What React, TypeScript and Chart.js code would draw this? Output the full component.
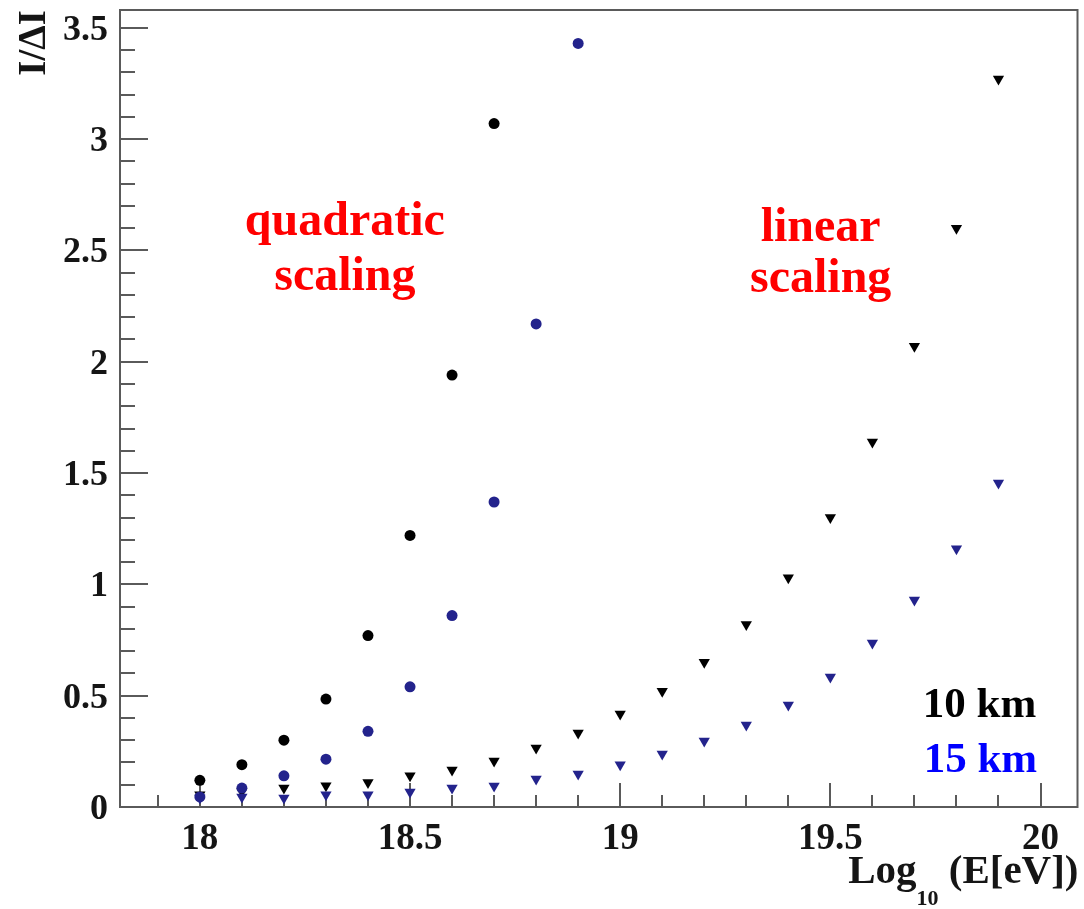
import { useEffect, useRef } from "react";
import { Chart, registerables } from "chart.js";

Chart.register(...registerables);

// ---- data ----
const energiesQuad10 = [18.0, 18.1, 18.2, 18.3, 18.4, 18.5, 18.6, 18.7];
const quad10km = [0.12, 0.19, 0.3, 0.485, 0.77, 1.22, 1.94, 3.07];

const energiesQuad15 = [18.0, 18.1, 18.2, 18.3, 18.4, 18.5, 18.6, 18.7, 18.8, 18.9];
const quad15km = [0.045, 0.085, 0.14, 0.215, 0.34, 0.54, 0.86, 1.37, 2.17, 3.43];

const energiesLin = [
  18.0, 18.1, 18.2, 18.3, 18.4, 18.5, 18.6, 18.7, 18.8, 18.9,
  19.0, 19.1, 19.2, 19.3, 19.4, 19.5, 19.6, 19.7, 19.8, 19.9,
];
const lin10km = [
  0.055, 0.07, 0.085, 0.095, 0.11, 0.14, 0.166, 0.207, 0.265, 0.332,
  0.418, 0.52, 0.65, 0.82, 1.03, 1.3, 1.64, 2.07, 2.6, 3.27,
];
const lin15km = [
  0.04, 0.045, 0.04, 0.055, 0.055, 0.067, 0.085, 0.094, 0.126, 0.148,
  0.19, 0.238, 0.296, 0.368, 0.458, 0.584, 0.737, 0.93, 1.16, 1.455,
];

const xMajorTicks = [18, 18.5, 19, 19.5, 20];
const xTickLabels = ["18", "18.5", "19", "19.5", "20"];
const yMajorTicks = [0, 0.5, 1, 1.5, 2, 2.5, 3, 3.5];
const yTickLabels = ["0", "0.5", "1", "1.5", "2", "2.5", "3", "3.5"];

const X_MIN = 17.81;
const X_MAX = 20.088;
const Y_MIN = 0;
const Y_MAX = 3.58;

const BLUE_MARK = "#23238c";
const FONT = '"Liberation Serif", "Times New Roman", serif';

type Note = { text: string; x: number; y: number; color: string; size: number };
const notes: Note[] = [
  { text: "quadratic", x: 18.345, y: 2.57, color: "#ff0000", size: 48 },
  { text: "scaling", x: 18.345, y: 2.323, color: "#ff0000", size: 48 },
  { text: "linear", x: 19.477, y: 2.543, color: "#ff0000", size: 48 },
  { text: "scaling", x: 19.477, y: 2.314, color: "#ff0000", size: 48 },
  { text: "10 km", x: 19.855, y: 0.404, color: "#000000", size: 43 },
  { text: "15 km", x: 19.857, y: 0.157, color: "#0000ff", size: 43 },
];

const toPts = (xs: number[], ys: number[]) => ys.map((y, i) => ({ x: xs[i], y }));

const rootAxesPlugin = {
  id: "rootAxes",
  beforeDatasetsDraw(chart: any) {
    const { ctx, chartArea: a, scales } = chart;
    const xs = scales.x;
    const ys = scales.y;
    ctx.save();
    ctx.strokeStyle = "#5a5a5a";
    ctx.lineWidth = 2;
    for (let i = 179; i <= 200; i++) {
      const v = i / 10;
      const px = Math.round(xs.getPixelForValue(v));
      const major = i % 5 === 0;
      ctx.beginPath();
      ctx.moveTo(px, a.bottom);
      ctx.lineTo(px, a.bottom - (major ? 24 : 12));
      ctx.stroke();
    }
    for (let i = 0; i <= 35; i++) {
      const v = i / 10;
      const py = Math.round(ys.getPixelForValue(v));
      const major = i % 5 === 0;
      ctx.beginPath();
      ctx.moveTo(a.left, py);
      ctx.lineTo(a.left + (major ? 28 : 15), py);
      ctx.stroke();
    }
    ctx.restore();
  },
  afterDatasetsDraw(chart: any) {
    const { ctx, chartArea: a, scales } = chart;
    const xs = scales.x;
    const ys = scales.y;
    ctx.save();
    ctx.strokeStyle = "#5a5a5a";
    ctx.lineWidth = 2;
    ctx.strokeRect(a.left, a.top, a.right - a.left, a.bottom - a.top);

    ctx.fillStyle = "#151515";
    ctx.font = `bold 37px ${FONT}`;
    ctx.textBaseline = "alphabetic";
    ctx.textAlign = "center";
    xMajorTicks.forEach((v, i) => {
      ctx.fillText(xTickLabels[i], xs.getPixelForValue(v), a.bottom + 42);
    });
    ctx.font = `bold 36px ${FONT}`;
    ctx.textAlign = "right";
    yMajorTicks.forEach((v, i) => {
      ctx.fillText(yTickLabels[i], a.left - 12, ys.getPixelForValue(v) + 12);
    });

    ctx.textAlign = "left";
    const main = `bold 41px ${FONT}`;
    const sub = `bold 22px ${FONT}`;
    ctx.font = main;
    const wLog = ctx.measureText("Log").width;
    const wRest = ctx.measureText(" (E[eV])").width;
    ctx.font = sub;
    const wSub = ctx.measureText("10").width;
    const endX = a.right + 1;
    const startX = endX - (wLog + wSub + wRest);
    const base = a.bottom + 76;
    ctx.font = main;
    ctx.fillText("Log", startX, base);
    ctx.font = sub;
    ctx.fillText("10", startX + wLog, base + 22);
    ctx.font = main;
    ctx.fillText(" (E[eV])", startX + wLog + wSub, base);

    ctx.save();
    ctx.translate(45, a.top);
    ctx.rotate(-Math.PI / 2);
    ctx.textAlign = "right";
    ctx.font = `bold 39px ${FONT}`;
    ctx.fillText("I/\u0394I", 0, 0);
    ctx.restore();

    ctx.textAlign = "center";
    notes.forEach((n) => {
      ctx.fillStyle = n.color;
      ctx.font = `bold ${n.size}px ${FONT}`;
      ctx.fillText(n.text, xs.getPixelForValue(n.x), ys.getPixelForValue(n.y));
    });
    ctx.restore();
  },
};

export default function App() {
  const ref = useRef<HTMLCanvasElement | null>(null);

  useEffect(() => {
    document.body.style.margin = "0";
    const canvas = ref.current;
    if (!canvas) return;
    const chart = new Chart(canvas, {
      type: "scatter",
      data: {
        datasets: [
          {
            label: "15 km quadratic",
            data: toPts(energiesQuad15, quad15km),
            pointStyle: "circle",
            pointRadius: 5.5,
            backgroundColor: BLUE_MARK,
            borderColor: BLUE_MARK,
            borderWidth: 0,
            order: 0,
          },
          {
            label: "10 km quadratic",
            data: toPts(energiesQuad10, quad10km),
            pointStyle: "circle",
            pointRadius: 5.5,
            backgroundColor: "#000000",
            borderColor: "#000000",
            borderWidth: 0,
            order: 1,
          },
          {
            label: "15 km linear",
            data: toPts(energiesLin, lin15km),
            pointStyle: "triangle",
            rotation: 180,
            pointRadius: 6.5,
            backgroundColor: BLUE_MARK,
            borderColor: BLUE_MARK,
            borderWidth: 0,
            order: 2,
          },
          {
            label: "10 km linear",
            data: toPts(energiesLin, lin10km),
            pointStyle: "triangle",
            rotation: 180,
            pointRadius: 6.5,
            backgroundColor: "#000000",
            borderColor: "#000000",
            borderWidth: 0,
            order: 3,
          },
        ],
      },
      options: {
        animation: false,
        responsive: false,
        maintainAspectRatio: false,
        layout: { padding: { left: 120, right: 5, top: 10, bottom: 102 } },
        plugins: {
          legend: { display: false },
          tooltip: { enabled: false },
        },
        scales: {
          x: { type: "linear", min: X_MIN, max: X_MAX, display: false },
          y: { type: "linear", min: Y_MIN, max: Y_MAX, display: false },
        },
      },
      plugins: [rootAxesPlugin],
    });
    return () => chart.destroy();
  }, []);

  return (
    <div style={{ width: 1084, height: 909, background: "#ffffff" }}>
      <canvas ref={ref} width={1084} height={909} style={{ display: "block" }} />
    </div>
  );
}
